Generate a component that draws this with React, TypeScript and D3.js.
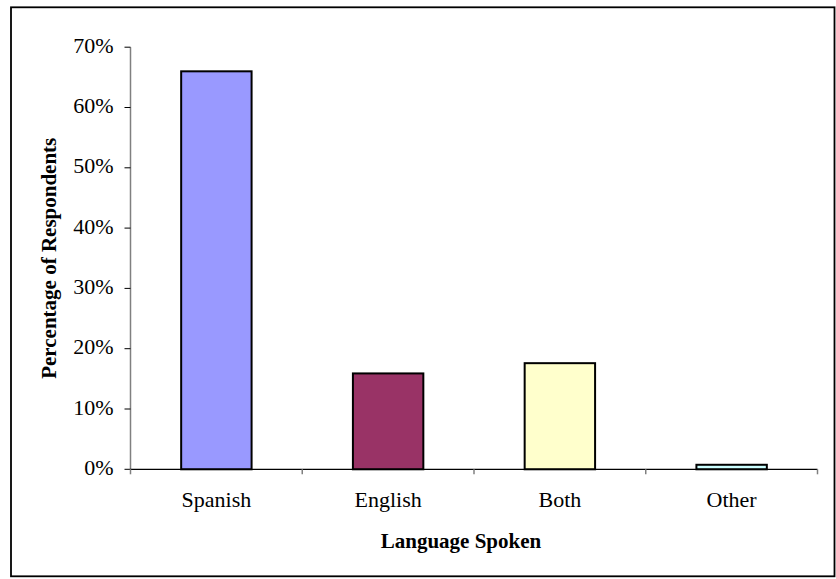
import React from "react";
import * as d3 from "d3";

const categories = ["Spanish", "English", "Both", "Other"];
const values = [0.66, 0.159, 0.176, 0.0075];
const colors = ["#9999FF", "#993366", "#FFFFCC", "#CCFFFF"];
const yTicks = [0, 0.1, 0.2, 0.3, 0.4, 0.5, 0.6, 0.7];

const W = 836;
const H = 579;
const left = 130.5;
const right = 817.5;
const top = 47.2;
const bottom = 469.3;

export default function App() {
  const x = d3.scaleBand<string>().domain(categories).range([left, right]).paddingInner(0.59).paddingOuter(0.295);
  const y = d3.scaleLinear().domain([0, 0.7]).range([bottom, top]);
  const band = x.step();
  const fmt = d3.format(".0%");
  const font = "'Liberation Serif', 'Times New Roman', serif";
  return (
    <svg width={W} height={H} style={{ position: "absolute", left: 0, top: 0, background: "#fff" }}>
      <rect x={11} y={7.3} width={823.5} height={569} fill="#fff" stroke="#000" strokeWidth={1.8} />
      {/* y axis */}
      <line x1={left} x2={left} y1={y(0.7)} y2={bottom} stroke="#808080" strokeWidth={1.5} />
      {yTicks.map((t) => (
        <g key={t}>
          <line x1={left - 6} x2={left} y1={y(t)} y2={y(t)} stroke="#000" strokeWidth={1} />
          <text x={113.5} y={y(t) + 5.5} textAnchor="end" fontFamily={font} fontSize={22} fill="#000">
            {fmt(t)}
          </text>
        </g>
      ))}
      {/* bars */}
      {categories.map((c, i) => (
        <rect
          key={c}
          x={x(c)!}
          y={y(values[i])}
          width={x.bandwidth()}
          height={bottom - y(values[i])}
          fill={colors[i]}
          stroke="#000"
          strokeWidth={2}
        />
      ))}
      {/* x axis */}
      <line x1={left} x2={right} y1={bottom} y2={bottom} stroke="#000" strokeWidth={1.2} />
      {d3.range(categories.length + 1).map((k) => (
        <line key={k} x1={left + k * band} x2={left + k * band} y1={bottom} y2={bottom + 5} stroke="#808080" strokeWidth={1.5} />
      ))}
      {categories.map((c) => (
        <text key={c} x={x(c)! + x.bandwidth() / 2} y={bottom + 37.4} textAnchor="middle" fontFamily={font} fontSize={22} fill="#000">
          {c}
        </text>
      ))}
      <text x={461} y={547.7} textAnchor="middle" fontFamily={font} fontSize={21} fontWeight="bold" fill="#000">
        Language Spoken
      </text>
      <text
        transform={`translate(56,${(top + bottom) / 2}) rotate(-90)`}
        textAnchor="middle"
        fontFamily={font}
        fontSize={21}
        fontWeight="bold"
        fill="#000"
      >
        Percentage of Respondents
      </text>
    </svg>
  );
}
